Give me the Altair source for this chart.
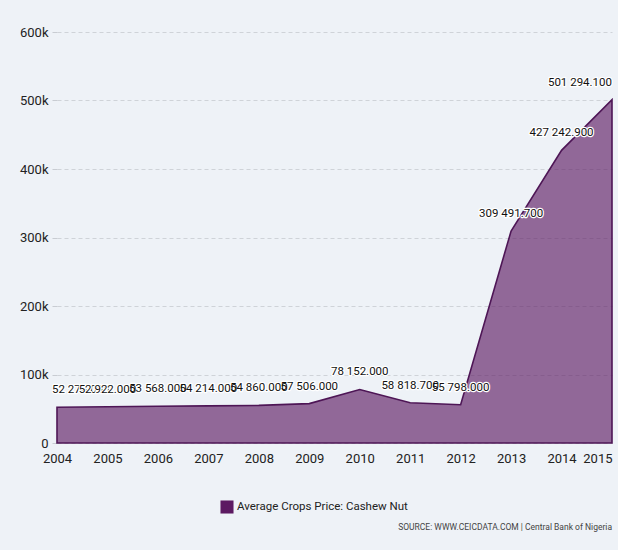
import altair as alt
import pandas as pd

years = [2004, 2005, 2006, 2007, 2008, 2009, 2010, 2011, 2012, 2013, 2014, 2015]
prices = [52276.0, 52922.0, 53568.0, 54214.0, 54860.0, 57506.0, 78152.0,
          58818.7, 55798.0, 309491.7, 427242.9, 501294.1]
labels = ["52 276.000", "52 922.000", "53 568.000", "54 214.000", "54 860.000",
          "57 506.000", "78 152.000", "58 818.700", "55 798.000", "309 491.700",
          "427 242.900", "501 294.100"]
series_name = "Average Crops Price: Cashew Nut"
source_text = ["SOURCE: WWW.CEICDATA.COM | Central Bank of Nigeria"]
y_ticks = [0, 100000, 200000, 300000, 400000, 500000, 600000]

df = pd.DataFrame({"year": years, "price": prices, "label": labels,
                   "series": [series_name] * len(years)})
src_df = pd.DataFrame({"t": source_text})

FONT = "Roboto, sans-serif"
BG = "#eef2f7"

x_enc = alt.X("year:Q", scale=alt.Scale(domain=[2004, 2015], nice=False),
              axis=alt.Axis(values=years, format="d", title=None, grid=False,
                            domain=False, ticks=False, labelPadding=9,
                            labelFontSize=13, labelColor="#222",
                            labelFont=FONT, labelFlush=False,
                            labelAlign={"condition": {"test": "datum.value == 2015", "value": "right"},
                                        "value": "center"}))
y_enc = alt.Y("price:Q", scale=alt.Scale(domain=[0, 600000], nice=False),
              axis=alt.Axis(values=y_ticks, title=None,
                            labelExpr="datum.value == 0 ? '0' : format(datum.value / 1000, 'd') + 'k'",
                            domain=False, tickSize=5, tickColor="#c8ccd2",
                            gridDash=[4, 3], gridColor="#cfd3d8",
                            labelFontSize=13, labelColor="#222",
                            labelFont=FONT, labelPadding=4))

area = alt.Chart(df).mark_area(
    fillOpacity=0.64, stroke="#4e1656", strokeWidth=1.6
).encode(
    x=x_enc, y=y_enc,
    color=alt.Color("series:N",
                    scale=alt.Scale(range=["#5c1a62"]),
                    legend=alt.Legend(title=None, orient="none",
                                      legendX=163, legendY=468,
                                      symbolType="square", symbolSize=170,
                                      symbolOpacity=1, symbolStrokeWidth=0,
                                      labelFont=FONT, labelFontSize=11.5,
                                      labelLimit=0, labelOffset=3,
                                      labelColor="#222")),
)

def label_layer(filt, align, dx):
    base = alt.Chart(df).transform_filter(filt)
    halo = base.mark_text(align=align, dx=dx, dy=-17, font=FONT, fontSize=11.5,
                          stroke="white", strokeWidth=2.5, strokeJoin="round",
                          fill="white").encode(x="year:Q", y="price:Q", text="label:N")
    txt = base.mark_text(align=align, dx=dx, dy=-17, font=FONT, fontSize=11.5,
                         fill="#111").encode(x="year:Q", y="price:Q", text="label:N")
    return halo + txt

first = label_layer("datum.year == 2004", "left", -5)
last = label_layer("datum.year == 2015", "right", 0)
mid = label_layer("datum.year > 2004 && datum.year < 2015", "center", 0)

source = alt.Chart(src_df).mark_text(
    align="right", baseline="middle", font=FONT, fontSize=8.5,
    color="#444"
).encode(x=alt.value(555), y=alt.value(495), text="t:N")

chart = alt.layer(area, first, mid, last, source).properties(
    width=555, height=411,
    autosize=alt.AutoSizeParams(type="none"),
    padding={"left": 57, "top": 32, "right": 6, "bottom": 107},
    background=BG,
).configure_view(stroke=None)

chart.save("out.html", embed_options={"renderer": "svg", "actions": False})
